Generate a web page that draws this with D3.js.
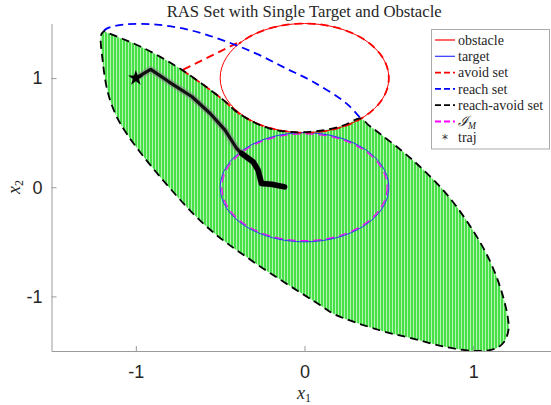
<!DOCTYPE html>
<html>
<head>
<meta charset="utf-8">
<script src="https://cdn.jsdelivr.net/npm/d3@7"></script>
<style>
	body { margin: 0; background: #fff; }
	svg { display: block; }
	.tick text { font-family: 'Liberation Sans', Arial, sans-serif; font-size: 18px; fill: #262626; }
	.serif { font-family: 'Liberation Serif', 'DejaVu Serif', serif; fill: #262626; }
</style>
</head>
<body>
<svg width="551" height="405"></svg>
<script>
// boundary of the reach-avoid set (x1, x2)
const reachAvoid = [
	[-1.19, 1.43], [-1.08, 1.36], [-0.97, 1.287], [-0.85, 1.19], [-0.725, 1.073],
	[-0.598, 0.936], [-0.48, 0.798], [-0.402, 0.691], [-0.304, 0.599], [-0.206, 0.538],
	[-0.088, 0.507], [0.029, 0.507], [0.147, 0.532], [0.245, 0.575], [0.333, 0.63],
	[0.38, 0.569], [0.446, 0.492], [0.643, 0.247], [0.84, -0.058], [0.998, -0.394],
	[1.097, -0.668], [1.166, -0.943], [1.205, -1.188], [1.209, -1.31], [1.183, -1.417],
	[1.134, -1.477], [1.016, -1.5], [0.839, -1.463], [0.642, -1.386], [0.446, -1.31],
	[0.174, -1.161], [0.092, -1.079], [-0.304, -0.682], [-0.58, -0.361], [-0.857, 0.097],
	[-1.054, 0.49], [-1.118, 0.661], [-1.167, 0.874], [-1.196, 1.15], [-1.206, 1.394], [-1.19, 1.43]
];
// visible upper part of the reach set
const reachTop = [
	[-1.19, 1.43], [-1.173, 1.453], [-1.075, 1.49], [-0.878, 1.49], [-0.68, 1.44],
	[-0.483, 1.346], [-0.286, 1.224], [-0.108, 1.087], [0.053, 0.964], [0.25, 0.766], [0.333, 0.63]
];
// avoid set: straight edge and curved edge of the obstacle shadow
const avoidLine = [[-0.40, 1.32], [-0.725, 1.073]];
const avoidCurve = [
	[-0.725, 1.073], [-0.598, 0.936], [-0.48, 0.798], [-0.402, 0.691], [-0.304, 0.599], [-0.206, 0.538]
];
const avoidArc = [-114, 141]; // degrees on the obstacle circle
const obstacle = { c: [0, 1], r: 0.5 };
const target = { c: [0, 0], r: 0.5 };
const invariant = { c: [0, 0], r: 0.49 };
const traj = [
	[-1.0, 1.0], [-0.912, 1.08], [-0.804, 0.966], [-0.667, 0.829], [-0.559, 0.676],
	[-0.471, 0.523], [-0.402, 0.355], [-0.372, 0.309], [-0.304, 0.232], [-0.275, 0.156],
	[-0.255, 0.034], [-0.196, 0.028], [-0.118, 0.003]
];
const tickVals = [-1, 0, 1];
const legendItems = ['obstacle', 'target', 'avoid set', 'reach set', 'reach-avoid set', 'IM', 'traj'];

const svg = d3.select('svg');
const x = d3.scaleLinear().domain([-1.5, 1.5]).range([51.5, 557.5]);
const y = d3.scaleLinear().domain([-1.5, 1.5]).range([351, 23.5]);

const defs = svg.append('defs');
const pat = defs.append('pattern').attr('id', 'stripes').attr('width', 3).attr('height', 3)
	.attr('patternUnits', 'userSpaceOnUse');
pat.append('rect').attr('width', 3).attr('height', 3).attr('fill', '#47e047');
pat.append('rect').attr('x', 2).attr('width', 1).attr('height', 3).attr('fill', '#b4f4b4');

const smooth = d3.line().x((d) => x(d[0])).y((d) => y(d[1])).curve(d3.curveCatmullRom);
const straight = d3.line().x((d) => x(d[0])).y((d) => y(d[1]));

// green region
svg.append('path').attr('d', smooth(reachAvoid) + 'Z').attr('fill', 'url(#stripes)');

// circles
function circle (o, color, dash, w) {
	svg.append('ellipse')
		.attr('cx', x(o.c[0])).attr('cy', y(o.c[1]))
		.attr('rx', x(o.r) - x(0)).attr('ry', y(0) - y(o.r))
		.attr('fill', 'none').attr('stroke', color).attr('stroke-width', w)
		.attr('stroke-dasharray', dash);
}
circle(obstacle, '#ff0000', null, 1);
circle(invariant, '#ff00ff', '8,5', 1.3);
circle(target, '#3333ff', null, 1);

// avoid set (red dashed)
const arcPts = d3.range(avoidArc[0], avoidArc[1] + 1, 3).map((a) => [
	obstacle.c[0] + obstacle.r * Math.cos(a * Math.PI / 180),
	obstacle.c[1] + obstacle.r * Math.sin(a * Math.PI / 180)
]);
const red = { stroke: '#ff0000', 'stroke-width': 1.8, 'stroke-dasharray': '8,5', fill: 'none' };
function styled (sel, st) { for (let k in st) sel.attr(k, st[k]); return sel; }
styled(svg.append('path').attr('d', straight(avoidLine)), red);
styled(svg.append('path').attr('d', smooth(avoidCurve) + straight(arcPts).replace('M', 'L')), red);

// reach set top (blue dashed)
styled(svg.append('path').attr('d', smooth(reachTop)),
	{ stroke: '#0000ff', 'stroke-width': 1.8, 'stroke-dasharray': '8,5', fill: 'none' });

// reach-avoid boundary (black dashed)
styled(svg.append('path').attr('d', smooth(reachAvoid)),
	{ stroke: '#000', 'stroke-width': 1.8, 'stroke-dasharray': '8,5', 'stroke-dashoffset': 6.5, fill: 'none' });

// trajectory
svg.append('path').attr('d', straight(traj)).attr('fill', 'none')
	.attr('stroke', '#888').attr('stroke-opacity', 0.6).attr('stroke-width', 6.5)
	.attr('stroke-linejoin', 'round');
svg.append('path').attr('d', straight(traj)).attr('fill', 'none')
	.attr('stroke', '#111').attr('stroke-width', 3.2).attr('stroke-linejoin', 'round');
svg.append('path').attr('d', straight(traj.slice(7))).attr('fill', 'none')
	.attr('stroke', '#000').attr('stroke-width', 5.5).attr('stroke-linejoin', 'round')
	.attr('stroke-linecap', 'round');
svg.append('path').attr('d', d3.symbol().type(d3.symbolStar).size(75)())
	.attr('transform', `translate(${x(traj[0][0])},${y(traj[0][1])})`).attr('fill', '#000');

// axes
const axisColor = '#9a9a9a';
const gx = svg.append('g').attr('transform', `translate(0,${y(-1.5)})`)
	.call(d3.axisBottom(x).tickValues(tickVals).tickSize(-5).tickSizeOuter(0).tickPadding(14)
		.tickFormat(d3.format('d')));
const gy = svg.append('g').attr('transform', `translate(${x(-1.5)},0)`)
	.call(d3.axisLeft(y).tickValues(tickVals).tickSize(-5).tickSizeOuter(0).tickPadding(9)
		.tickFormat(d3.format('d')));
[gx, gy].forEach((g) => {
	g.select('.domain').attr('stroke', axisColor);
	g.selectAll('.tick line').attr('stroke', axisColor);
	g.selectAll('.tick text').text((d) => (d < 0 ? '-' + Math.abs(d) : d));
});

// title and labels
svg.append('text').attr('class', 'serif').attr('x', 304.2).attr('y', 16.5)
	.attr('text-anchor', 'middle').attr('font-size', 16).attr('textLength', 275)
	.attr('lengthAdjust', 'spacingAndGlyphs').text('RAS Set with Single Target and Obstacle');

const xl = svg.append('text').attr('class', 'serif').attr('x', 304).attr('y', 399)
	.attr('text-anchor', 'middle').attr('font-size', 18).attr('fill', '#555');
xl.append('tspan').attr('font-style', 'italic').text('x');
xl.append('tspan').attr('font-size', 12).attr('dy', 3).text('1');

const yl = svg.append('text').attr('class', 'serif').attr('text-anchor', 'middle')
	.attr('font-size', 18).attr('fill', '#555').attr('transform', 'translate(20,187) rotate(-90)');
yl.append('tspan').attr('font-style', 'italic').text('x');
yl.append('tspan').attr('font-size', 12).attr('dy', 3).text('2');

// legend
const lg = svg.append('g');
lg.append('rect').attr('x', 431.5).attr('y', 29.5).attr('width', 118).attr('height', 119.5)
	.attr('fill', '#fff').attr('stroke', '#aaa').attr('stroke-width', 1);
const legStyle = [
	{ c: '#ff0000', d: null }, { c: '#3333ff', d: null }, { c: '#ff0000', d: '6,3' },
	{ c: '#0000ff', d: '6,3' }, { c: '#000', d: '6,3' }, { c: '#ff00ff', d: '6,3' }, { c: null }
];
legendItems.forEach((name, i) => {
	const yy = 40 + i * 16.3;
	const st = legStyle[i];
	if (st.c) {
		lg.append('line').attr('x1', 435).attr('x2', 455).attr('y1', yy).attr('y2', yy)
			.attr('stroke', st.c).attr('stroke-width', st.d ? 1.8 : 1.2).attr('stroke-dasharray', st.d);
	} else {
		lg.append('text').attr('x', 445).attr('y', yy + 5).attr('text-anchor', 'middle')
			.attr('font-size', 12).attr('font-family', 'DejaVu Sans').attr('fill', '#333').text('*');
	}
	const t = lg.append('text').attr('class', 'serif').attr('x', 458).attr('y', yy)
		.attr('dy', '0.33em').attr('font-size', 14);
	if (name === 'IM') {
		t.append('tspan').attr('font-family', 'DejaVu Serif').attr('font-style', 'italic').text('ℐ');
		t.append('tspan').attr('font-size', 9.5).attr('font-style', 'italic').attr('dy', 3).text('M');
	} else {
		t.text(name);
	}
});
</script>
</body>
</html>
